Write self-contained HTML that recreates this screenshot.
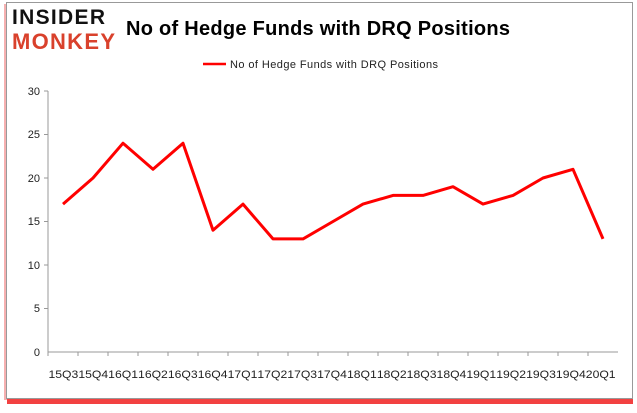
<!DOCTYPE html>
<html><head><style>
body{margin:0;background:#fff;width:637px;height:408px;overflow:hidden;font-family:"Liberation Sans",sans-serif}
</style></head><body>
<svg width="637" height="408" xmlns="http://www.w3.org/2000/svg" font-family="Liberation Sans, sans-serif">
<rect x="7" y="399" width="626" height="5" fill="#f02020" opacity="0.85"/>
<rect x="4" y="4" width="3" height="396" fill="#f6b0b0"/>
<rect x="6.5" y="2.5" width="626" height="396" fill="#fff" stroke="#999"/>
<text x="12" y="24" font-size="21" font-weight="bold" fill="#111" letter-spacing="1" textLength="94">INSIDER</text>
<text x="12" y="49" font-size="22" font-weight="bold" fill="#d9412c" letter-spacing="1" textLength="104">MONKEY</text>
<text x="126" y="35" font-size="20" font-weight="bold" fill="#000" textLength="384">No of Hedge Funds with DRQ Positions</text>
<line x1="203" y1="64" x2="226" y2="64" stroke="#f00" stroke-width="2.5"/>
<text x="230" y="68" font-size="11" fill="#222" textLength="208">No of Hedge Funds with DRQ Positions</text>
<g stroke="#999" stroke-width="1">
<line x1="48" y1="91" x2="48" y2="352"/>
<line x1="48" y1="352" x2="618" y2="352"/>
<line x1="44" y1="91" x2="48" y2="91"/><line x1="44" y1="134.5" x2="48" y2="134.5"/><line x1="44" y1="178" x2="48" y2="178"/><line x1="44" y1="221.5" x2="48" y2="221.5"/><line x1="44" y1="265" x2="48" y2="265"/><line x1="44" y1="308.5" x2="48" y2="308.5"/>
</g>
<g font-size="11" fill="#222" text-anchor="end">
<text x="40" y="95">30</text><text x="40" y="138">25</text><text x="40" y="182">20</text><text x="40" y="225">15</text><text x="40" y="269">10</text><text x="40" y="312">5</text><text x="40" y="356">0</text>
</g>
<g font-size="11" fill="#222" id="lbl"></g>
<polyline fill="none" stroke="#f00" stroke-width="3" stroke-linejoin="round" points="63,204.1 93,178 123,143.2 153,169.3 183,143.2 213,230.2 243,204.1 273,238.9 303,238.9 333,221.5 363,204.1 393,195.4 423,195.4 453,186.7 483,204.1 513,195.4 543,178 573,169.3 603,238.9"/>
</svg>
<script>
var l=["15Q3","15Q4","16Q1","16Q2","16Q3","16Q4","17Q1","17Q2","17Q3","17Q4","18Q1","18Q2","18Q3","18Q4","19Q1","19Q2","19Q3","19Q4","20Q1"],g=document.getElementById("lbl");
var svg=document.querySelector("svg");
for(var i=0;i<19;i++){var t=document.createElementNS("http://www.w3.org/2000/svg","text");t.setAttribute("x",48.5+i*29.85);t.setAttribute("y",378);t.setAttribute("textLength","29.8");t.setAttribute("lengthAdjust","spacingAndGlyphs");t.textContent=l[i];g.appendChild(t);
var k=document.createElementNS("http://www.w3.org/2000/svg","line");k.setAttribute("x1",48+i*30);k.setAttribute("x2",48+i*30);k.setAttribute("y1",352);k.setAttribute("y2",356);k.setAttribute("stroke","#999");svg.appendChild(k);}
</script>
</body></html>
